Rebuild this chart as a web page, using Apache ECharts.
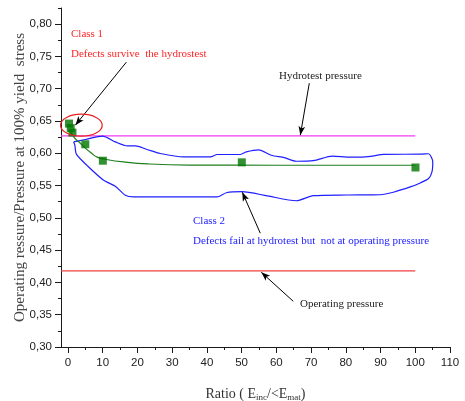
<!DOCTYPE html>
<html><head><meta charset="utf-8">
<script src="https://cdn.jsdelivr.net/npm/echarts@6/dist/echarts.min.js"></script>
<style>html,body{margin:0;padding:0;background:#fff}#c{width:465px;height:401px}</style>
</head><body><div id="c"></div><script>
// ---- data ----
const envelope = [
  [1.64,0.6176],[5.01,0.6214],[9.99,0.6265],[13.64,0.6176],[17.10,0.6114],[19.40,0.6114],
  [22.77,0.6059],[26.60,0.5997],[33.30,0.5944],[40.99,0.5944],[43.01,0.5981],[49.63,0.5981],
  [51.35,0.6021],[54.89,0.6052],[58.55,0.5970],[62.29,0.5932],[65.75,0.5877],[70.64,0.5885],
  [76.11,0.5955],[81.29,0.5939],[84.17,0.5939],[87.62,0.5955],[90.88,0.5983],[101.44,0.5986],
  [103.83,0.5993],[105.04,0.5866],[104.81,0.5712],[103.83,0.5609],[101.44,0.5541],[98.56,0.5479],
  [93.67,0.5397],[89.93,0.5358],[80.34,0.5354],[70.64,0.5343],[65.75,0.5265],[57.40,0.5340],
  [50.12,0.5405],[45.60,0.5389],[42.92,0.5324],[18.91,0.5324],[16.52,0.5350],[13.64,0.5490],
  [10.28,0.5583],[5.73,0.5800],[2.42,0.5986],[1.99,0.6125],[1.64,0.6176]
];
const fitCurve = [
  [0.6,0.634],[1.3,0.629],[2.0,0.623],[3.5,0.616],[5.0,0.608],[6.8,0.600],[8.4,0.594],
  [11.0,0.5905],[16.0,0.5866],[23.0,0.5835],[35.0,0.5818],[60.0,0.5815],[100.0,0.5815]
];
const squares = [[0.3,0.646],[0.8,0.639],[1.3,0.632],[5.0,0.614],[10.05,0.5885],[50.06,0.586],[100.06,0.578]];
const hydrotestPressure = 0.627;
const operatingPressure = 0.418;
const refLineX = [-2, 100];
const xMajor = [0,10,20,30,40,50,60,70,80,90,100,110];
const xMinor = [5,15,25,35,45,55,65,75,85,95,105];
const yMajor = [0.30,0.35,0.40,0.45,0.50,0.55,0.60,0.65,0.70,0.75,0.80];
const yMinor = [0.325,0.375,0.425,0.475,0.525,0.575,0.625,0.675,0.725,0.775,0.825];
const arrows = [
  [[16.81,0.7411],[2.13,0.6435]],
  [[69.49,0.7086],[66.9,0.628]],
  [[55.38,0.4762],[50.2,0.5397]],
  [[64.87,0.3708],[55.67,0.4157]]
];
const ellipse = {cx:3.86, cy:0.6435, rx:6.0, ry:0.017};

const X_MIN=-2, X_MAX=110, Y_MIN=0.30, Y_MAX=0.825;
const chart = echarts.init(document.getElementById('c'), null, {renderer:'canvas'});
const axisCol = '#1a1a1a';
const serif = '"Liberation Serif", "Times New Roman", serif';
const sans = '"Liberation Sans", Arial, sans-serif';

function xAxisDef(major, showLine){
  return {
    type:'value', min:X_MIN, max:X_MAX, position:'bottom',
    axisLine:{show:showLine, onZero:false, lineStyle:{color:axisCol,width:1}},
    axisTick:{show:true, inside:false, length: major?6:3, customValues: major?xMajor:xMinor, lineStyle:{color:axisCol}},
    axisLabel:{show:major, customValues:xMajor, color:'#222', fontFamily:sans, fontSize:11.5, margin:10},
    splitLine:{show:false},
    name: major ? 'Ratio ( E{s|inc}/<E{s|mat})' : '',
    nameLocation:'middle', nameGap:40,
    nameTextStyle:{color:'#333', fontFamily:serif, fontSize:14, rich:{s:{fontFamily:serif, fontSize:9, verticalAlign:'bottom', padding:[6,0,0,0]}}}
  };
}
function yAxisDef(major, showLine){
  return {
    type:'value', min:Y_MIN, max:Y_MAX, position:'left',
    axisLine:{show:showLine, onZero:false, lineStyle:{color:axisCol,width:1}},
    axisTick:{show:true, inside:false, length: major?6:3, customValues: major?yMajor:yMinor, lineStyle:{color:axisCol}},
    axisLabel:{show:major, customValues:yMajor, color:'#222', fontFamily:sans, fontSize:11.5, margin:9,
      formatter:v=>v.toFixed(2).replace('.',',')},
    splitLine:{show:false},
    name: major ? 'Operating ressure/Pressure at 100% yield  stress' : '',
    nameLocation:'middle', nameGap:33, nameMoveOverlap:false,
    nameTextStyle:{color:'#444', fontFamily:serif, fontSize:15}
  };
}

const option = {
  animation:false,
  backgroundColor:'#fff',
  grid:{left:61, right:15, top:8, bottom:54, containLabel:false, outerBoundsMode:'none'},
  xAxis:[xAxisDef(true,true), xAxisDef(false,false)],
  yAxis:[yAxisDef(true,true), yAxisDef(false,false)],
  series:[
    {type:'line', name:'hydro', data:refLineX.map(x=>[x,hydrotestPressure]), symbol:'none',
      lineStyle:{color:'#f03cf0', width:1.3}, z:2},
    {type:'line', name:'oper', data:refLineX.map(x=>[x,operatingPressure]), symbol:'none',
      lineStyle:{color:'#f04040', width:1.3}, z:2},
    {type:'line', name:'envelope', data:envelope, symbol:'none', smooth:0.25,
      lineStyle:{color:'#1f1fff', width:1.2}, z:3},
    {type:'line', name:'fit', data:fitCurve, symbol:'none', smooth:true,
      lineStyle:{color:'#1f7f1f', width:1.2}, z:4,
      markLine:{silent:true, symbol:['none','arrow'], symbolSize:[5,9], animation:false,
        label:{show:false}, lineStyle:{color:'#000', width:1, type:'solid'},
        emphasis:{disabled:true},
        data: arrows.map(a=>[{coord:a[0]},{coord:a[1]}])}},
    {type:'scatter', name:'pts', data:squares, symbol:'rect', symbolSize:8,
      itemStyle:{color:'#007400'}, z:5}
  ]
};
chart.setOption(option);

const c = chart.convertToPixel({gridIndex:0}, [ellipse.cx, ellipse.cy]);
const e1 = chart.convertToPixel({gridIndex:0}, [ellipse.cx+ellipse.rx, ellipse.cy+ellipse.ry]);
const txt = (x,y,t,col)=>({type:'text', left:x, top:y, style:{text:t, fill:col, font:'11px '+serif}, z:10});
chart.setOption({graphic:[
  {type:'ellipse', shape:{cx:c[0], cy:c[1], rx:Math.abs(e1[0]-c[0]), ry:Math.abs(e1[1]-c[1])},
    style:{fill:'none', stroke:'#e82020', lineWidth:1.2}, z:10},
  txt(71,29,'Class 1','#ff2525'),
  txt(71,49,'Defects survive  the hydrostest','#ff2525'),
  txt(279,71,'Hydrotest pressure','#222'),
  txt(193,216,'Class 2','#2323ff'),
  txt(193,236,'Defects fail at hydrotest but  not at operating pressure','#2323ff'),
  txt(300,299,'Operating pressure','#222')
]});
</script></body></html>
